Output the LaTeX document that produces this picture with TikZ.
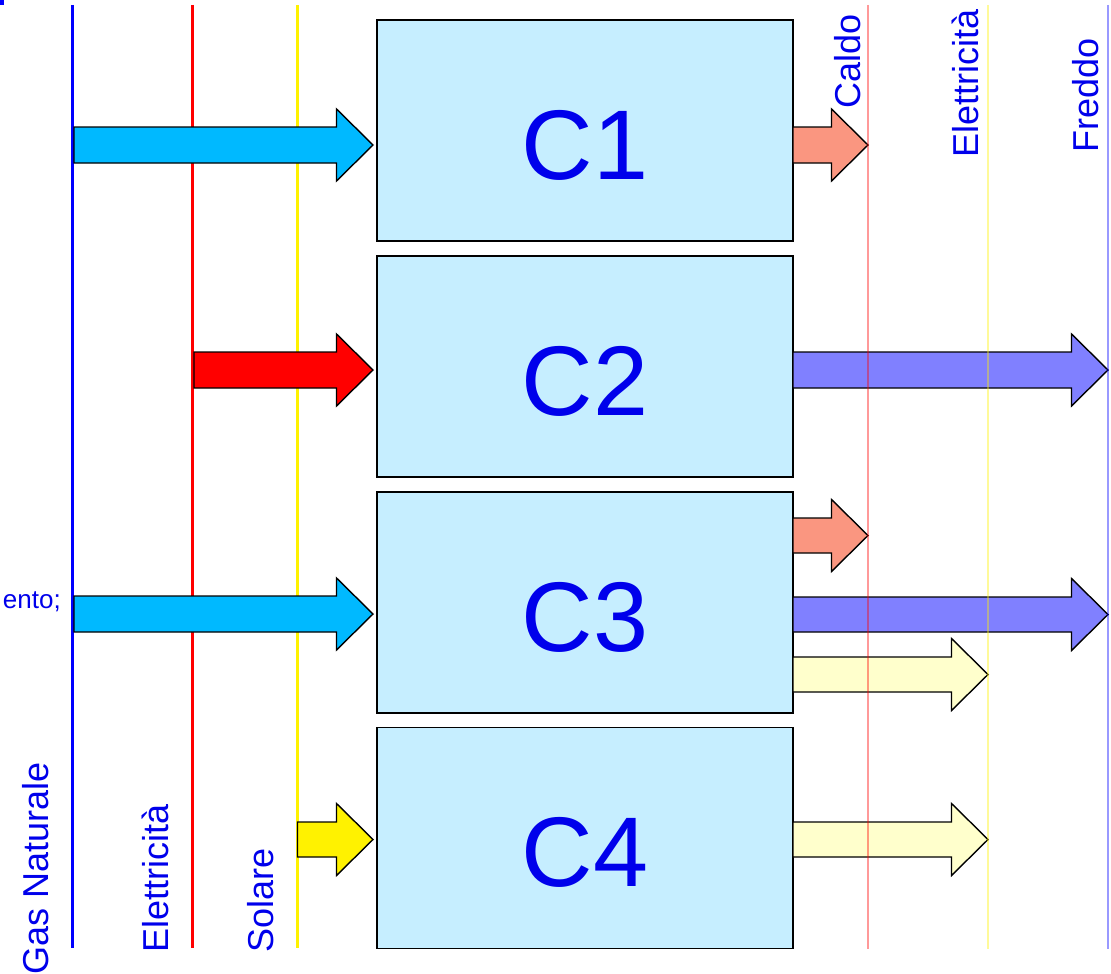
\documentclass[tikz,border=0pt]{standalone}
\usepackage{fontspec}
\setmainfont{Liberation Sans}
\definecolor{boxfill}{RGB}{198,238,255}
\definecolor{gascyan}{RGB}{0,185,255}
\definecolor{salmon}{RGB}{250,150,128}
\definecolor{coldblue}{RGB}{128,128,255}
\definecolor{paleyellow}{RGB}{255,255,204}
\definecolor{labelblue}{RGB}{0,0,235}
\tikzset{
  cbox/.style={draw=black, line width=1.6pt, fill=boxfill, minimum width=416pt, minimum height=221pt, inner sep=0pt},
  ctext/.style={inner sep=0pt, text=labelblue, font=\fontsize{99}{99}\selectfont},
  fatarrow/.style={draw=black, line width=1.4pt, line join=miter},
  srcline/.style={line width=3pt},
  sinkline/.style={line width=1.8pt, opacity=0.4},
  vlabel/.style={rotate=90, anchor=base west, inner sep=0pt, text=labelblue, font=\fontsize{36}{36}\selectfont},
}
% \blockarrow{style}{start x}{tip x}{centre y}{shaft half}
\newcommand{\blockarrow}[5]{%
  \draw[fatarrow,#1] (#2,#4-#5) -- (#3-36.5,#4-#5) -- (#3-36.5,#4-36) -- (#3,#4)
    -- (#3-36.5,#4+36) -- (#3-36.5,#4+#5) -- (#2,#4+#5) -- cycle;}
\begin{document}
\begin{tikzpicture}[x=1pt,y=-1pt]
\useasboundingbox (0,0) rectangle (1111,974);
% corner mark
\fill[blue] (0,0) rectangle (4,5);
% source lines
\coordinate (gT) at (72.5,5);   \coordinate (gB) at (72.5,948);
\coordinate (eT) at (192.5,5);  \coordinate (eB) at (192.5,948);
\coordinate (sT) at (297.7,5);  \coordinate (sB) at (297.7,948);
\draw[srcline,blue] (gT) -- (gB);
\draw[srcline,red] (eT) -- (eB);
\draw[srcline,yellow] (sT) -- (sB);
% boxes
\node[cbox] (c1) at (585,130.5) {};
\node[cbox] (c2) at (585,366.5) {};
\node[cbox] (c3) at (585,602.5) {};
\node[cbox] (c4) at (585,838) {};
\node[ctext] (t1) at ([yshift=-14.5pt]c1.center) {C1};
\node[ctext] (t2) at ([yshift=-14.5pt]c2.center) {C2};
\node[ctext] (t3) at ([yshift=-14.5pt]c3.center) {C3};
\node[ctext] (t4) at ([yshift=-14.5pt]c4.center) {C4};
% input arrows
\blockarrow{fill=gascyan}{74}{373}{145}{18}
\blockarrow{fill=red}{194}{373}{370}{18}
\blockarrow{fill=gascyan}{74}{373}{614}{18}
\blockarrow{fill=yellow}{297.5}{373}{839.5}{17.5}
% output arrows
\blockarrow{fill=salmon}{793}{868}{145}{18}
\blockarrow{fill=coldblue}{793}{1108}{370}{18}
\blockarrow{fill=salmon}{793}{868}{535.5}{17.5}
\blockarrow{fill=coldblue}{793}{1108}{614.5}{17.5}
\blockarrow{fill=paleyellow}{793}{988}{674.5}{17.5}
\blockarrow{fill=paleyellow}{793}{988}{839.5}{17.5}
% sink lines
\coordinate (hT) at (867.7,5);   \coordinate (hB) at (867.7,949);
\coordinate (lT) at (987.7,5);   \coordinate (lB) at (987.7,949);
\coordinate (fT) at (1107.7,5);  \coordinate (fB) at (1107.7,949);
\draw[sinkline,red] (hT) -- (hB);
\draw[sinkline,yellow] (lT) -- (lB);
\draw[sinkline,blue] (fT) -- (fB);
% labels
\node[vlabel] (lgas) at (48,975) {Gas Naturale};
\node[vlabel] (lele) at (168,953) {Elettricità};
\node[vlabel] (lsol) at (273,953) {Solare};
\node[vlabel] (lcal) at (860,109) {Caldo};
\node[vlabel] (lel2) at (978,158) {Elettricità};
\node[vlabel] (lfre) at (1098,153) {Freddo};
\node[anchor=base east, inner sep=0pt, text=labelblue, font=\fontsize{26}{26}\selectfont] (lcut) at (61,608) {ento;};
\end{tikzpicture}
\end{document}
